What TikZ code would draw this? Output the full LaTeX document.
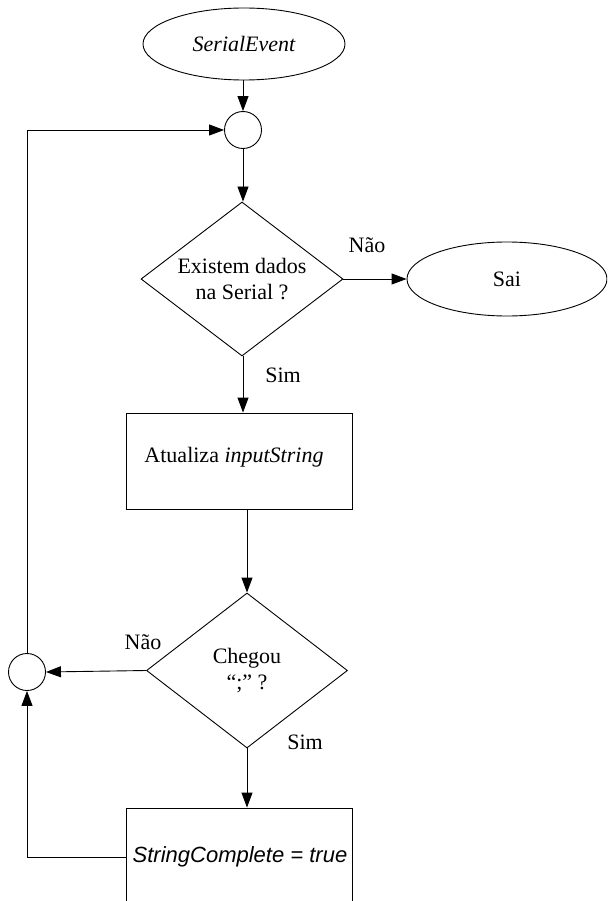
\documentclass[tikz,border=0pt]{standalone}
\usepackage{fontspec}
\setmainfont{Liberation Serif}
\setsansfont{Liberation Sans}
\usetikzlibrary{shapes.geometric,arrows.meta}
\begin{document}
\begin{tikzpicture}[x=1pt,y=-1pt,
  every node/.style={font=\fontsize{22}{26}\selectfont},
  line/.style={draw, line width=0.9pt},
  flow/.style={line, -{Triangle[length=15pt,width=11pt]}},
  term/.style={ellipse, line, inner sep=0pt},
  junction/.style={circle, line, minimum size=37pt, inner sep=0pt},
  decision/.style={diamond, line, inner sep=0pt, aspect=1.31, align=center},
  process/.style={rectangle, line, inner sep=0pt},
  tag/.style={inner sep=0pt}]
\useasboundingbox (0,0) rectangle (607,901);
\clip (0,0) rectangle (607,901);

% start / end terminals
\node[term, minimum width=202pt, minimum height=72pt] (start) at (244,44) {\itshape SerialEvent};
\node[term, minimum width=200pt, minimum height=74pt] (sai) at (507,279) {Sai};

% junction points of the loop
\node[junction] (j1) at (243,130) {};
\node[junction] (j2) at (27,672) {};

% decisions
\node[decision, minimum width=202pt, minimum height=154pt] (d1) at (242,279)
  {Existem dados\\na Serial ?};
\node[decision, minimum width=201pt, minimum height=155pt] (d2) at (247,670.5)
  {Chegou\\“;” ?};

% processing steps
\node[process, minimum width=226pt, minimum height=96pt] (p1) at (239,461) {};
\node[tag] (p1t) at (234,457) {Atualiza \textit{inputString}};
\node[process, minimum width=226pt, minimum height=112pt] (p2) at (239,864) {};
\node[tag] (p2t) at (240,857) {\sffamily\itshape StringComplete = true};

% branch labels
\node[tag] (nao1) at (367,245) {Não};
\node[tag] (sim1) at (283,375) {Sim};
\node[tag] (nao2) at (143,642) {Não};
\node[tag] (sim2) at (305,742) {Sim};

% connectors
\draw[flow] (start.south -| j1) -- (j1.north);
\draw[flow] (j1.south) -- (j1.south |- d1.north);
\draw[flow] (d1.east) -- (sai.west);
\draw[flow] (j1.south |- d1.south) -- (j1.south |- p1.north);
\draw[flow] (p1.south -| d2.north) -- (d2.north);
\draw[flow] (d2.west) -- (j2.east);
\draw[flow] (d2.south) -- (d2.south |- p2.north);
\draw[flow] (p2.west |- p2t) -| (j2.south);
\draw[flow] (j2.north) |- (j1.west);
\end{tikzpicture}
\end{document}
